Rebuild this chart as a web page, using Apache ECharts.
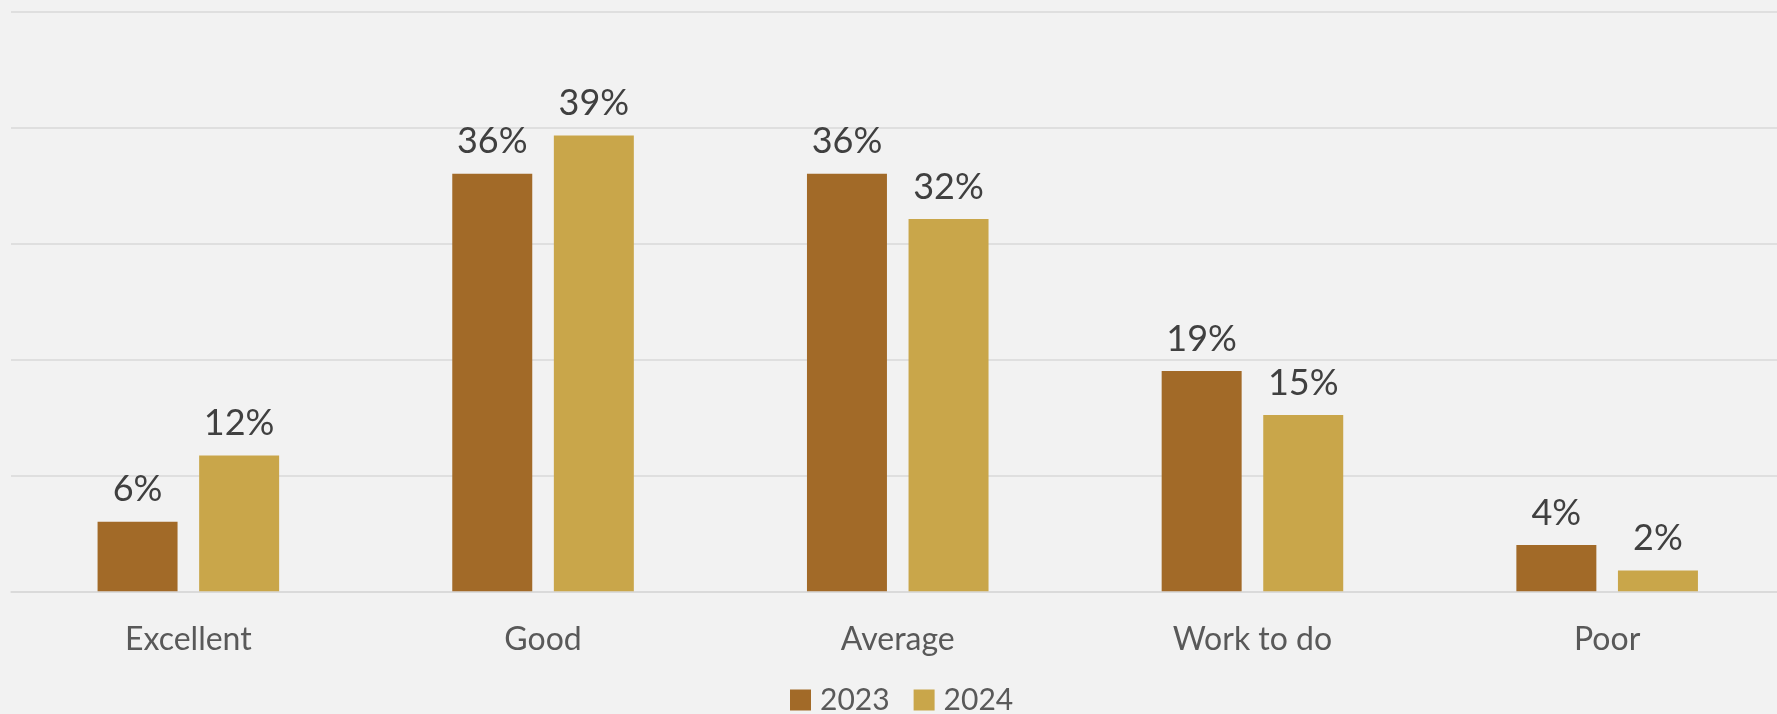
<!DOCTYPE html>
<html><head><meta charset="utf-8">
<script src="https://cdn.jsdelivr.net/npm/echarts@6/dist/echarts.min.js"></script>
<style>html,body{margin:0;padding:0;background:#F2F2F2;overflow:hidden;}#c{width:1785px;height:714px;}</style>
</head><body><div id="c"></div>
<script>
const categories = ['Excellent', 'Good', 'Average', 'Work to do', 'Poor'];
const values2023 = [6.0, 36.0, 36.0, 19.0, 4.0];
const values2024 = [11.7, 39.3, 32.1, 15.2, 1.8];
const seriesNames = ['2023', '2024'];
const colors = ['#A26A28', '#C9A64A'];

const chart = echarts.init(document.getElementById('c'), null, {renderer: 'canvas'});
const font = 'Lato, "Open Sans", sans-serif';
const labelCfg = {
  show: true, position: 'top', distance: 14,
  formatter: p => Math.round(p.value) + '%',
  color: '#404040', fontFamily: font, fontSize: 36
};
chart.setOption({
  backgroundColor: '#F2F2F2',
  animation: false,
  grid: {left: 11, right: 0.5, top: 11.3, bottom: 122.7, containLabel: false},
  legend: {
    data: seriesNames, left: 785, top: 680,
    itemWidth: 21, itemHeight: 21, itemGap: 24,
    icon: 'rect',
    textStyle: {color: '#595959', fontFamily: font, fontSize: 30, padding: [0, 0, 0, 4]}
  },
  xAxis: {
    type: 'category', data: categories,
    axisLine: {show: true, lineStyle: {color: '#D9D9D9', width: 1.5}},
    axisTick: {show: false},
    axisLabel: {color: '#595959', fontFamily: font, fontSize: 32, margin: 32}
  },
  yAxis: {
    type: 'value', min: 0, max: 50, interval: 10,
    axisLabel: {show: false}, axisLine: {show: false}, axisTick: {show: false},
    splitLine: {lineStyle: {color: '#D9D9D9', width: 1.5}}
  },
  series: [
    {name: seriesNames[0], type: 'bar', data: values2023, barWidth: '22.55%', barGap: '27%',
     itemStyle: {color: colors[0]}, label: labelCfg},
    {name: seriesNames[1], type: 'bar', data: values2024, barWidth: '22.55%', barGap: '27%',
     itemStyle: {color: colors[1]}, label: labelCfg}
  ]
});
</script></body></html>
